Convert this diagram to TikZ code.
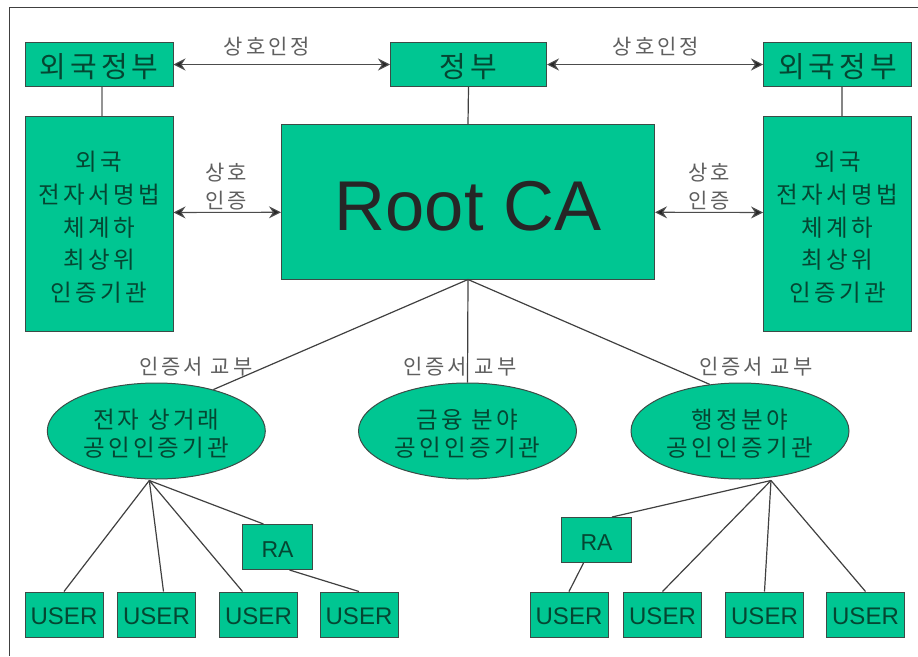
\documentclass[tikz,border=0pt]{standalone}
\usepackage{fontspec}
\setmainfont{Liberation Sans}
\newfontfamily\krw{Noto Sans CJK KR}[LetterSpace=14]
\newfontfamily\krl{Noto Sans CJK KR}[LetterSpace=14]
\usetikzlibrary{shapes.geometric,arrows.meta}
\definecolor{boxgreen}{RGB}{0,198,146}
\definecolor{inkgreen}{RGB}{5,70,50}
\definecolor{edgegray}{RGB}{60,75,70}
\definecolor{labelgray}{RGB}{95,95,95}
\newcommand{\pad}[1]{\rule{0pt}{#1pt}}
\tikzset{
  x=1pt,y=-1pt,
  greenbox/.style={draw=edgegray,line width=1pt,fill=boxgreen,inner sep=0pt,text=inkgreen,align=center,anchor=north west},
  govbox/.style={greenbox,minimum height=44pt,font=\krw\fontsize{29}{32}\selectfont},
  cabox/.style={greenbox,minimum width=148pt,minimum height=215pt,font=\krw\fontsize{23.5}{32.6}\selectfont},
  rabox/.style={greenbox,minimum width=70pt,minimum height=45pt,font=\fontsize{23}{27}\selectfont},
  userbox/.style={greenbox,minimum width=78pt,minimum height=45pt,font=\fontsize{24}{28}\selectfont},
  oval/.style={ellipse,draw=edgegray,line width=1pt,fill=boxgreen,inner sep=0pt,text=inkgreen,align=center,minimum width=218pt,minimum height=96pt,font=\krw\fontsize{23.5}{28}\selectfont},
  conn/.style={draw=black!75,line width=1.2pt},
  both/.style={draw=black!70,line width=1.1pt,{Stealth[length=12pt,width=12pt,inset=4pt,fill=black!85]}-{Stealth[length=12pt,width=12pt,inset=4pt,fill=black!85]}},
  lab/.style={text=labelgray,font=\krl\fontsize{21}{25}\selectfont,align=center,inner sep=0pt}
}
\begin{document}
\begin{tikzpicture}
\useasboundingbox (0,0) rectangle (918,656);
\draw[draw=black!75,line width=1pt] (918,7.5) -- (9.5,7.5) -- (9.5,656);
% boxes
\node[govbox,minimum width=148pt] (fgL) at (24.5,42) {\pad{29}외국정부};
\node[govbox,minimum width=156pt] (gov) at (390,42) {\pad{29}정부};
\node[govbox,minimum width=148pt] (fgR) at (763,42) {\pad{29}외국정부};
\node[cabox] (caL) at (24.5,116) {\pad{26}외국\\전자서명법\\체계하\\최상위\\인증기관};
\node[cabox] (caR) at (763,116) {\pad{26}외국\\전자서명법\\체계하\\최상위\\인증기관};
\node[greenbox,minimum width=373pt,minimum height=154.5pt,text=black!85,font=\fontsize{70.5}{80}\selectfont] (root) at (281,124) {\pad{58}Root CA};
\node[oval] (ec) at (156.3,431) {\pad{25}전자 상거래\\공인인증기관};
\node[oval] (fin) at (467.5,431) {\pad{25}금융 분야\\공인인증기관};
\node[oval] (adm) at (740,431) {\pad{25}행정분야\\공인인증기관};
\node[rabox] (raL) at (242,524) {\pad{21}RA};
\node[rabox] (raR) at (561,517) {\pad{21}RA};
\node[userbox] (u1) at (24.5,591.5) {\pad{21}USER};
\node[userbox] (u2) at (117,591.5) {\pad{21}USER};
\node[userbox] (u3) at (219,591.5) {\pad{21}USER};
\node[userbox] (u4) at (319.5,591.5) {\pad{21}USER};
\node[userbox] (u5) at (529.5,591.5) {\pad{21}USER};
\node[userbox] (u6) at (623,591.5) {\pad{21}USER};
\node[userbox] (u7) at (725,591.5) {\pad{21}USER};
\node[userbox] (u8) at (826,591.5) {\pad{21}USER};
% connector junctions
\coordinate (hubL) at ([xshift=-7pt,yshift=-1pt]ec.south);
\coordinate (hubR) at ([xshift=31pt,yshift=-1pt]adm.south);
% connectors
\draw[both] (fgL.east) -- (gov.west);
\draw[both] (gov.east) -- (fgR.west);
\draw[both] ([yshift=11.5pt]caL.east) -- ([yshift=-10.5pt]root.west);
\draw[both] ([yshift=-10.5pt]root.east) -- ([yshift=11.5pt]caR.west);
\draw[draw=black!42,line width=2pt] ([xshift=3pt]fgL.south) -- ([xshift=3pt]caL.north);
\draw[conn] (gov.south) -- (root.north);
\draw[draw=black!48,line width=1.3pt] ([xshift=4.5pt]fgR.south) -- ([xshift=4.5pt]caR.north);
\draw[conn] (root.south) -- (ec.36);
\draw[conn] (root.south) -- (fin.north);
\draw[conn] (root.south) -- (adm.123);
\draw[conn] (hubL) -- (u1.north);
\draw[conn] (hubL) -- ([xshift=7pt]u2.north);
\draw[conn] (hubL) -- ([xshift=-16pt]u3.north);
\draw[conn] (hubL) -- ([xshift=-14pt]raL.north);
\draw[conn] ([xshift=12pt]raL.south) -- (u4.north);
\draw[conn] (hubR) -- ([xshift=15.5pt]raR.north);
\draw[conn] ([xshift=-13pt]raR.south) -- (u5.north);
\draw[conn] (hubR) -- (u6.north);
\draw[conn] (hubR) -- (u7.north);
\draw[conn] (hubR) -- (u8.north);
% labels
\node[lab] (l1) at (267,47) {상호인정};
\node[lab] (l2) at (656,47) {상호인정};
\node[lab] (l3) at (226.5,173) {상호};
\node[lab] (l4) at (226.5,201) {인증};
\node[lab] (l5) at (709,173) {상호};
\node[lab] (l6) at (709,201) {인증};
\node[lab] (l7) at (196,367) {인증서 교부};
\node[lab] (l8) at (460,367) {인증서 교부};
\node[lab] (l9) at (756,367) {인증서 교부};
\end{tikzpicture}
\end{document}
